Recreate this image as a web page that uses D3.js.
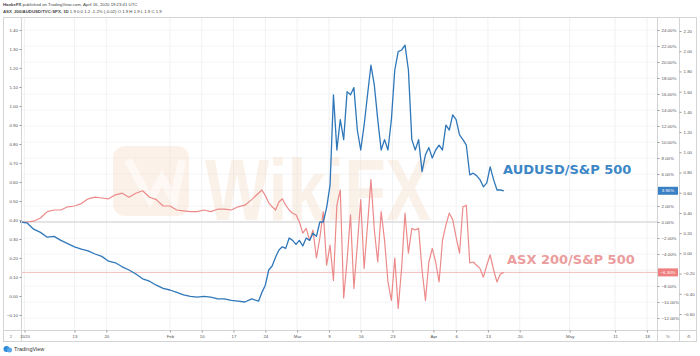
<!DOCTYPE html>
<html><head><meta charset="utf-8">
<script src="https://cdn.jsdelivr.net/npm/d3@7"></script>
<style>html,body{margin:0;padding:0;background:#fff;}svg{display:block;font-family:"Liberation Sans",Arial,sans-serif;}</style>
</head><body><svg id="c" width="700" height="356"></svg>
<script>
// time as days since 2020-01-01 (UTC)
const dayOffsets = [0,1.5,3,4.5,6,7.5,9,10.5,12,13.5,15,16.5,18,19.5,21,22.5,24,25.5,27,28.5,30,31.5,33,34.5,36,37.5,39,40.5,42,43.5,45,46.5,48,49.5,51,52.5,
53.25,54,54.75,55.5,56.25,57,57.75,58.5,59.25,60,60.75,61.5,62.25,63,63.75,64.5,65.25,66,66.75,67.5,68.25,69,69.75,70.5,71.25,72,72.75,73.5,74.25,75,75.75,76.5,77.25,78,78.75,79.5,80.25,81,81.75,82.5,83.25,84,84.75,85.5,86.25,87,87.75,88.5,89.25,90,90.75,91.5,92.25,93,93.75,94.5,95.25,96,96.75,97.5,98.25,99,99.75,100.5,101.25,102,102.75,103.5,104.25,105,105.75,106.5];
// % change since start
const audusdSpx = [0,-0.1,-0.9,-1.3,-1.9,-1.8,-2.3,-2.7,-3.1,-3.4,-3.6,-4.0,-4.3,-4.9,-5.1,-5.6,-6.0,-6.5,-7.1,-7.4,-7.9,-8.3,-8.5,-8.8,-9.1,-9.3,-9.4,-9.3,-9.4,-9.6,-9.6,-9.8,-9.9,-10.0,-9.6,-9.9,
-8.8,-7.9,-6.0,-5.5,-4.4,-3.5,-3.1,-3.3,-2.0,-2.3,-2.8,-2.3,-3.0,-2.0,-2.3,-1.4,-1.8,0,0,1.8,
4.6,15.9,9.0,12.8,10.3,16.3,15.9,16.8,11.5,9.0,12.1,15.9,19.6,17.1,12.8,9.0,10.3,9.0,12.8,19.0,
21.3,21.5,22.1,19.0,10.3,9.0,10.3,6.3,8.4,9.3,8.0,9.0,9.6,9.0,12.1,11.5,13.4,12.8,10.9,10.3,
9.6,5.9,6.1,5.8,5.3,4.4,4.9,6.9,5.3,4.0,4.0,3.9];
const asxSpx = [0,0,0.1,0.5,1.3,1.5,1.5,1.9,2.0,2.3,2.9,3.1,3.0,2.9,3.4,3.6,3.1,3.6,3.9,3.1,2.8,2.0,2.0,1.5,1.4,1.3,1.3,1.5,1.3,1.6,1.6,1.5,1.9,2.1,2.8,3.6,
4.0,3.3,2.4,1.9,1.5,2.5,2.9,2.1,1.5,1.1,0.9,0,-1.4,-0.8,-2.3,-1.0,-4.5,-2.0,1.3,-5.4,
-2.9,-7.3,2.1,4.0,-9.5,-4.8,0.9,-8.3,-2.9,2.8,-5.8,-0.4,5.3,-1.0,-5.0,1.3,-2.3,-7.5,-9.8,-4.5,
-10.8,-5.8,1.1,-3.9,-0.8,-1.0,-0.8,-6.0,-9.8,-5.0,-3.3,-5.0,-7.5,-2.3,-0.4,1.1,0.3,-1.9,-3.9,1.9,
2.1,-5.1,-5.0,-5.4,-5.8,-6.9,-5.4,-4.1,-6.0,-7.5,-6.5,-6.3];
const seriesNames = ["AUDUSD/S&P 500","ASX 200/S&P 500"];
const xTickDates = ["2020-01-02","2020-01-13","2020-01-20","2020-02-03","2020-02-10","2020-02-17","2020-02-24","2020-03-02","2020-03-09","2020-03-16","2020-03-23","2020-04-01","2020-04-06","2020-04-13","2020-04-20","2020-05-01","2020-05-11","2020-05-18"];
const xTickLabels = ["2020","13","20","Feb","10","17","24","Mar","9","16","23","Apr","6","13","20","May","11","18"];
const pctTicks = [24,22,20,18,16,14,12,10,8,6,4,2,0,-2,-4,-6,-8,-10,-12];
const leftTicks = [1.4,1.3,1.2,1.1,1.0,0.9,0.8,0.7,0.6,0.5,0.4,0.3,0.2,0.1,0.0,-0.1];
const right2Ticks = [2.2,2.0,1.8,1.6,1.4,1.2,1.0,0.8,0.6,0.4,0.2,0.0,-0.2,-0.4,-0.6];
const headerLine1 = ["HankeFX"," published on TradingView.com, April 16, 2020 19:23:41 UTC"];
const headerLine2 = ["ASX_200/AUDUSD/TVC:SPX, 1D"," 1.9 0.0 1.2 -1.2% (-0.02) O 1.9 H 1.9 L 1.9 C 1.9"];

const svg = d3.select("#c");
const L=21, R=657, T=18, B=330;
const t0 = Date.UTC(2020,0,1);
const toDate = d => new Date(t0 + d*864e5);
const x = d3.scaleUtc().domain([toDate(0), toDate(140)]).range([20, 656]);
const yPct = d3.scaleLinear().domain([-12,24]).range([318,30]);
const yLeft = d3.scaleLinear().domain([-0.1,1.4]).range([315,30]);
const yR2 = d3.scaleLinear().domain([-0.6,2.2]).range([314,31]);
const blue="#2f77b9", red="#ec8a8a";
const lastBlue = audusdSpx[audusdSpx.length-1], lastRed = asxSpx[asxSpx.length-1];

// header
const h1 = svg.append("text").attr("x",3).attr("y",6).attr("font-size",4.3).attr("fill","#444");
h1.append("tspan").attr("font-weight","bold").text(headerLine1[0]);
h1.append("tspan").text(headerLine1[1]);
const h2 = svg.append("text").attr("x",3).attr("y",13).attr("font-size",4.3).attr("fill","#444");
h2.append("tspan").attr("font-weight","bold").text(headerLine2[0]);
h2.append("tspan").text(headerLine2[1]);

// grid
const xt = xTickDates.map(s=>new Date(s+"T00:00:00Z"));
svg.append("g").selectAll("line").data(xt).join("line")
  .attr("x1",d=>x(d)).attr("x2",d=>x(d)).attr("y1",T).attr("y2",B).attr("stroke","#f0f1f4");
svg.append("g").selectAll("line").data(pctTicks).join("line")
  .attr("x1",L).attr("x2",R).attr("y1",d=>yPct(d)).attr("y2",d=>yPct(d)).attr("stroke","#f3f4f6");

// watermark
const wm = svg.append("g").attr("opacity",0.38);
wm.append("rect").attr("x",113).attr("y",146).attr("width",76).attr("height",70).attr("rx",12).attr("fill","#f9dcc4");
wm.append("path").attr("d","M128 160 L150 200 L162 178 L174 200 L182 160").attr("fill","none").attr("stroke","#fdf0e4").attr("stroke-width",8);
wm.append("text").attr("x",205).attr("y",220).attr("font-size",88).attr("font-weight","bold")
  .attr("textLength",226).attr("lengthAdjust","spacingAndGlyphs").attr("fill","#f3dcc8").text("WikiFX");

// zero line and red price line
svg.append("line").attr("x1",L).attr("x2",R).attr("y1",yPct(0)).attr("y2",yPct(0)).attr("stroke","#cfcfcf");
svg.append("line").attr("x1",L).attr("x2",R).attr("y1",yPct(lastRed)).attr("y2",yPct(lastRed)).attr("stroke","#f5bcbc");

// lines
const line = vals => d3.line().x((d,i)=>x(toDate(dayOffsets[i]))).y(d=>yPct(d))(vals);
svg.append("path").attr("d",line(asxSpx)).attr("fill","none").attr("stroke",red).attr("stroke-width",1.2).attr("stroke-linejoin","round");
svg.append("path").attr("d",line(audusdSpx)).attr("fill","none").attr("stroke",blue).attr("stroke-width",1.3).attr("stroke-linejoin","round");

// annotations
svg.append("text").attr("x",503).attr("y",174).attr("font-family","DejaVu Sans").attr("font-weight","bold").attr("font-size",13).attr("fill","#3d86c6").text(seriesNames[0]);
svg.append("text").attr("x",507).attr("y",264).attr("font-family","DejaVu Sans").attr("font-weight","bold").attr("font-size",13).attr("fill","#eb9c9c").text(seriesNames[1]);

// frame
const fr = svg.append("g").attr("stroke","#d4d4d4").attr("fill","none");
fr.append("rect").attr("x",3.5).attr("y",17.5).attr("width",693).attr("height",324);
[L, R, 679].forEach(v=>fr.append("line").attr("x1",v+0.5).attr("x2",v+0.5).attr("y1",17.5).attr("y2",341.5));
fr.append("line").attr("x1",3.5).attr("x2",696.5).attr("y1",B+0.5).attr("y2",B+0.5);

function styleAxis(g){
  g.select(".domain").remove();
  g.selectAll("line").attr("stroke","#999");
  g.selectAll("text").attr("font-size",4.4).attr("fill","#555").attr("font-family","Liberation Sans, Arial, sans-serif");
}
// axes
svg.append("g").attr("transform",`translate(0,${B+0.5})`)
  .call(d3.axisBottom(x).tickValues(xt).tickFormat((d,i)=>xTickLabels[i]).tickSize(2).tickPadding(2)).call(styleAxis);
svg.append("g").attr("transform",`translate(${L+0.5},0)`)
  .call(d3.axisLeft(yLeft).tickValues(leftTicks).tickFormat(d3.format(".2f")).tickSize(2).tickPadding(1.5)).call(styleAxis);
// percent axis: labels hidden under the last-value tags
const pctVisible = pctTicks.filter(t => Math.abs(yPct(t)-yPct(lastBlue))>6 && Math.abs(yPct(t)-yPct(lastRed))>6);
svg.append("g").attr("transform",`translate(${R+0.5},0)`)
  .call(d3.axisRight(yPct).tickValues(pctVisible).tickFormat(d=>d3.format(".2f")(d)+"%").tickSize(2).tickPadding(2)).call(styleAxis);
svg.append("g").attr("transform",`translate(${679.5},0)`)
  .call(d3.axisRight(yR2).tickValues(right2Ticks).tickFormat(d3.format(".2f")).tickSize(2).tickPadding(2)).call(styleAxis);

// last value tags
function tag(v,col){
  const y = yPct(v);
  svg.append("rect").attr("x",R+1).attr("y",y-4).attr("width",20).attr("height",8).attr("fill",col);
  svg.append("text").attr("x",R+11).attr("y",y+1.6).attr("text-anchor","middle").attr("font-size",4.4).attr("fill","#fff").text(d3.format(".2f")(v)+"%");
}
tag(lastBlue,"#3a80c4");
tag(lastRed,"#ef7e7e");

// corner glyphs
svg.append("text").attr("x",11).attr("y",337.5).attr("text-anchor","middle").attr("font-size",4.4).attr("fill","#777").text("2");
svg.append("text").attr("x",668).attr("y",337.5).attr("text-anchor","middle").attr("font-size",4.4).attr("fill","#777").text("%");
svg.append("text").attr("x",689).attr("y",337.5).attr("text-anchor","middle").attr("font-size",4.4).attr("fill","#777").text("⚙");

// TradingView logo
const lg = svg.append("g");
lg.append("circle").attr("cx",6.5).attr("cy",349).attr("r",3).attr("fill","#2f8ad8");
lg.append("circle").attr("cx",9.5).attr("cy",350).attr("r",2.5).attr("fill","#5aa8ea");
lg.append("text").attr("x",14).attr("y",351).attr("font-size",5.5).attr("fill","#333").text("TradingView");
</script></body></html>
